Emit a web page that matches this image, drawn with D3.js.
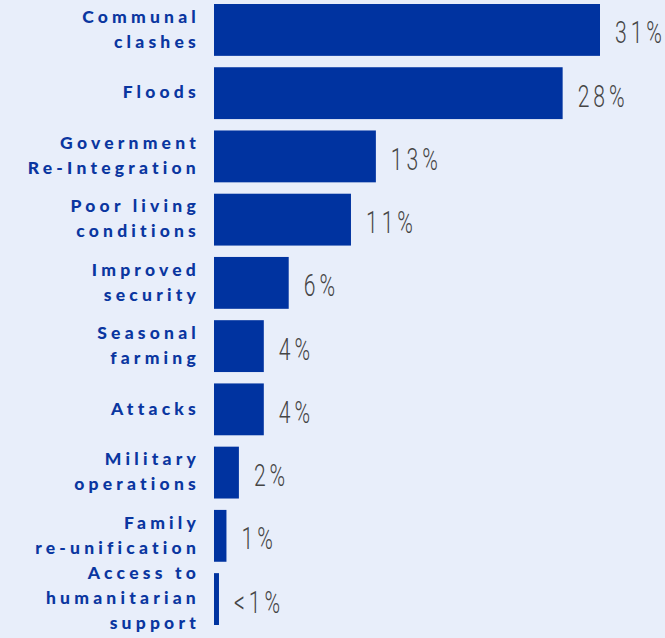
<!DOCTYPE html>
<html>
<head>
<meta charset="utf-8">
<script src="https://cdn.jsdelivr.net/npm/d3@7"></script>
<style>
  html, body { margin: 0; padding: 0; background: #e8eefa; }
  svg { display: block; }
</style>
</head>
<body>
<div id="chart"></div>
<script>
// reasons for return, share of respondents
const categories = [
    'Communal clashes',
    'Floods',
    'Government Re-Integration',
    'Poor living conditions',
    'Improved security',
    'Seasonal farming',
    'Attacks',
    'Military operations',
    'Family re-unification',
    'Access to humanitarian support'
];
const labelLines = [
    ['Communal', 'clashes'],
    ['Floods'],
    ['Government', 'Re-Integration'],
    ['Poor living', 'conditions'],
    ['Improved', 'security'],
    ['Seasonal', 'farming'],
    ['Attacks'],
    ['Military', 'operations'],
    ['Family', 're-unification'],
    ['Access to', 'humanitarian', 'support']
];
const values = [31, 28, 13, 11, 6, 4, 4, 2, 1, 0.4];
const valueLabels = ['31%', '28%', '13%', '11%', '6%', '4%', '4%', '2%', '1%', '<1%'];

const width = 665, height = 638;
const barLeft = 214;

const svg = d3.select('#chart')
    .append('svg')
    .attr('width', width)
    .attr('height', height);

const x = d3.scaleLinear().domain([0, 31]).range([barLeft, 600]);
const y = d3.scaleBand().domain(categories).range([4, 625]).paddingInner(0.18);

const rows = svg.selectAll('g.row')
    .data(categories)
    .enter()
    .append('g')
    .attr('class', 'row');

rows.append('rect')
    .attr('x', x(0))
    .attr('y', d => y(d))
    .attr('width', (d, i) => x(values[i]) - x(0))
    .attr('height', y.bandwidth())
    .attr('fill', '#0033a0');

// condensed look for the value labels
rows.append('text')
    .attr('transform', (d, i) => `translate(${x(values[i]) + 15},${y(d) + y.bandwidth() / 2 + 2}) scale(0.66,1)`)
    .attr('dy', '0.36em')
    .attr('font-family', 'Roboto, sans-serif')
    .attr('font-weight', 300)
    .attr('font-size', 32)
    .attr('letter-spacing', 6)
    .attr('fill', '#454545')
    .text((d, i) => valueLabels[i]);

const lineH = 25;
rows.append('text')
    .attr('text-anchor', 'end')
    .attr('font-family', 'Lato, sans-serif')
    .attr('font-weight', 900)
    .attr('font-size', 17.5)
    .attr('letter-spacing', 4.2)
    .attr('fill', '#0a36a0')
    .each(function(d, i) {
        const lines = labelLines[i];
        const cy = y(d) + y.bandwidth() / 2;
        const first = cy - (lines.length - 1) * lineH / 2;
        d3.select(this).selectAll('tspan')
            .data(lines)
            .enter()
            .append('tspan')
            .attr('x', 200)
            .attr('y', (l, j) => first + j * lineH)
            .attr('dy', '0.3em')
            .text(l => l);
    });
</script>
</body>
</html>
